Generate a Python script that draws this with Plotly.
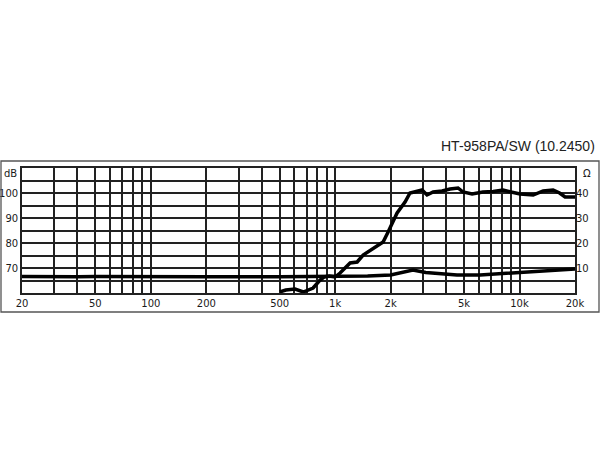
import plotly.graph_objects as go

# SPL response (dB) — frequency in Hz
spl_f = [500, 540, 606, 671, 759, 828, 871, 930, 998, 1063, 1205, 1316, 1418, 1606, 1820, 1937, 2167,
         2393, 2546, 2750, 2960, 3150, 3400, 3800, 4200, 4640, 4940, 5530, 6330, 7200, 8140, 9000,
         10070, 11860, 13430, 15210, 16500, 17670, 19000, 20000]
spl_db = [60.4, 61.2, 61.6, 60.4, 62.0, 65.2, 66.4, 66.8, 66.4, 68.0, 72.0, 72.4, 75.2, 78.0, 80.4, 84.4, 92.0,
          96.4, 100.0, 100.6, 101.2, 99.2, 100.4, 100.8, 101.6, 102.0, 100.4, 99.6, 100.4, 100.6, 101.2, 100.4,
          99.6, 99.2, 100.8, 101.2, 100.0, 98.4, 98.6, 98.4]

# Impedance (ohm)
imp_f = [20, 25, 30, 40, 50, 70, 100, 200, 500, 1000, 1500, 2000, 2250, 2640, 3100, 3800, 4580, 6110,
         9100, 12000, 15200, 20000]
imp_ohm = [6.6, 6.5, 6.5, 6.5, 6.6, 6.5, 6.5, 6.5, 6.5, 6.6, 6.8, 7.2, 8.0, 9.2, 8.2, 7.8, 7.2, 7.2,
           8.0, 8.4, 8.8, 9.6]

x_grid = [20, 30, 40, 50, 60, 70, 80, 90, 100, 200, 300, 400, 500, 600, 700, 800, 900,
          1000, 2000, 3000, 4000, 5000, 6000, 7000, 8000, 9000, 10000, 20000]
x_labels = {20: "20", 50: "50", 100: "100", 200: "200", 500: "500", 1000: "1k",
            2000: "2k", 5000: "5k", 10000: "10k", 20000: "20k"}
y_grid = [60, 65, 70, 75, 80, 85, 90, 95, 100, 105, 110]
y_labels = {70: "70", 80: "80", 90: "90", 100: "100"}
y2_vals = [10, 20, 30, 40]
y2_labels = ["10", "20", "30", "40"]
unit_left = "dB"
unit_right = "Ω"
title_text = "HT-958PA/SW (10.2450)"

fig = go.Figure()
fig.add_trace(go.Scatter(x=imp_f, y=imp_ohm, mode="lines", yaxis="y2",
                         line=dict(color="black", width=3.5), showlegend=False))
fig.add_trace(go.Scatter(x=spl_f, y=spl_db, mode="lines",
                         line=dict(color="black", width=3.5), showlegend=False))

tickfont = dict(family="DejaVu Sans", size=10, color="#1a1a1a")
grid_col = "#222"
fig.update_layout(
    width=600, height=450,
    margin=dict(l=22, r=25, t=168, b=157, autoexpand=False),
    paper_bgcolor="white", plot_bgcolor="white",
    xaxis=dict(type="log", range=[1.30103, 4.30103], automargin=False,
               tickvals=x_grid, ticktext=[x_labels.get(v, "") for v in x_grid],
               tickmode="array", showgrid=True, gridcolor=grid_col, gridwidth=1.6,
               showline=True, linecolor=grid_col, linewidth=1.6, mirror=True,
               ticks="", tickfont=tickfont, zeroline=False),
    yaxis=dict(range=[60, 110], tickmode="array", tickvals=y_grid, automargin=False,
               ticktext=[y_labels.get(v, "") for v in y_grid],
               showgrid=True, gridcolor=grid_col, gridwidth=1.6,
               showline=True, linecolor=grid_col, linewidth=1.6, mirror=True,
               ticks="", tickfont=tickfont, zeroline=False),
    yaxis2=dict(range=[0, 50], overlaying="y", side="right", tickmode="array",
                tickvals=y2_vals, ticktext=y2_labels, showgrid=False, automargin=False,
                ticks="", tickfont=tickfont, zeroline=False, showline=False),
    annotations=[
        dict(text=title_text, xref="paper", yref="paper", x=1.04, y=1.10,
             xanchor="right", yanchor="bottom", showarrow=False,
             font=dict(family="Liberation Sans", size=14, color="#222")),
        dict(text=unit_left, xref="paper", yref="paper", x=-3/553, y=1-5/125,
             xanchor="right", yanchor="middle", showarrow=False, font=tickfont),
        dict(text=unit_right, xref="paper", yref="paper", x=1+6/553, y=1-5/125,
             xanchor="left", yanchor="middle", showarrow=False, font=tickfont),
    ],
    shapes=[dict(type="rect", xref="paper", yref="paper",
                 x0=-21/553, x1=(553+24)/553, y0=-19/125, y1=1+7/125,
                 line=dict(color="#555", width=1.3))],
)

fig.write_html("out.html", config={"displayModeBar": False},
               post_script="document.body.style.margin='0';document.body.style.overflow='hidden';")
